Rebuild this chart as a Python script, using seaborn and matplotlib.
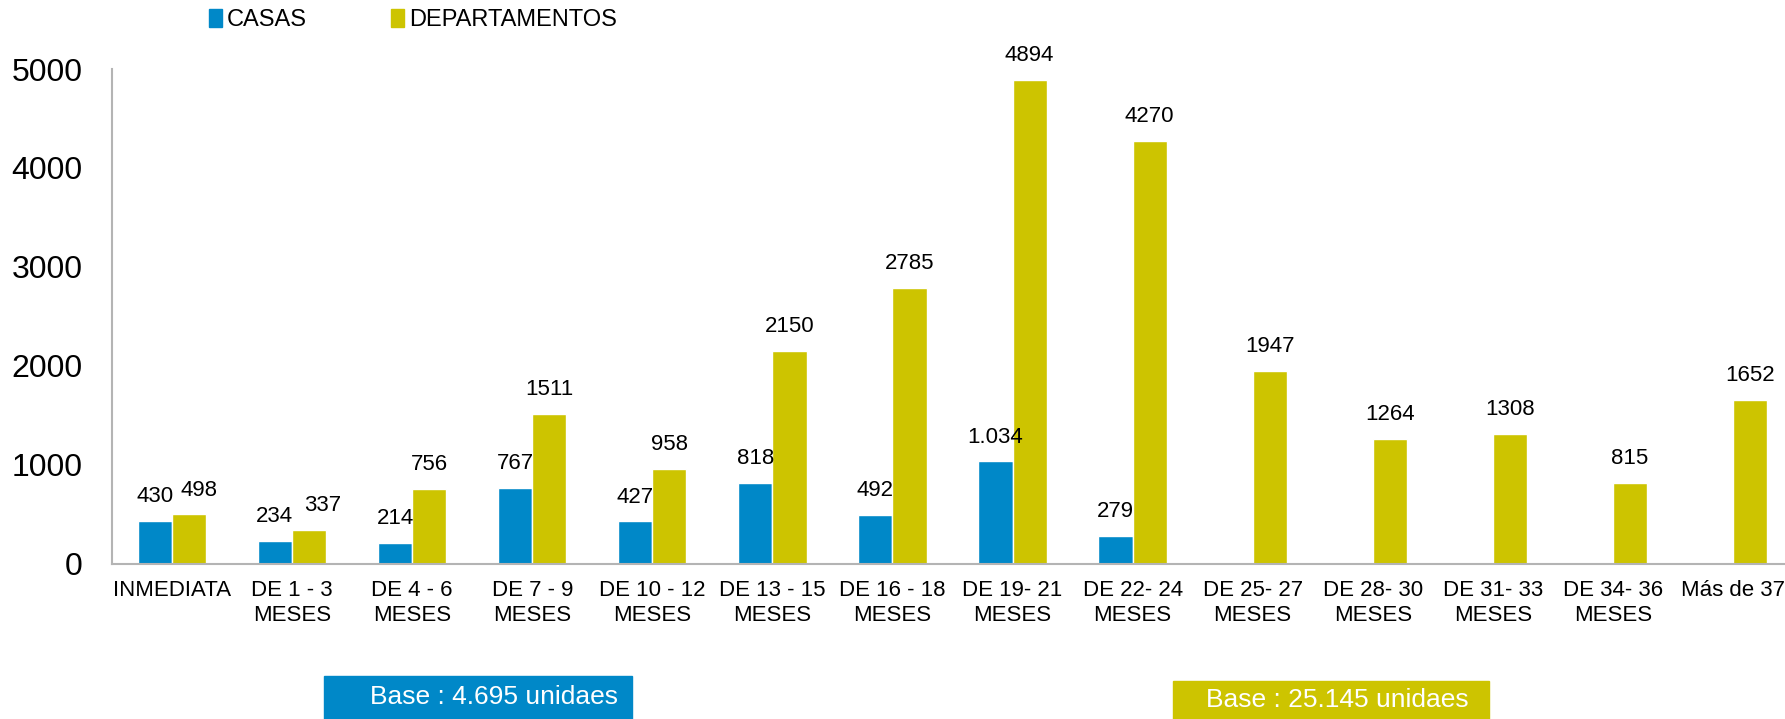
import pandas as pd
import matplotlib.pyplot as plt
import matplotlib.patches as mpatches
import seaborn as sns

# datos
periodos = ["INMEDIATA", "DE 1 - 3\nMESES", "DE 4 - 6\nMESES", "DE 7 - 9\nMESES",
            "DE 10 - 12\nMESES", "DE 13 - 15\nMESES", "DE 16 - 18\nMESES",
            "DE 19- 21\nMESES", "DE 22- 24\nMESES", "DE 25- 27\nMESES",
            "DE 28- 30\nMESES", "DE 31- 33\nMESES", "DE 34- 36\nMESES", "Más de 37"]
casas = [430, 234, 214, 767, 427, 818, 492, 1034, 279, 0, 0, 0, 0, 0]
departamentos = [498, 337, 756, 1511, 958, 2150, 2785, 4894, 4270, 1947, 1264, 1308, 815, 1652]
etiquetas_casas = ["430", "234", "214", "767", "427", "818", "492", "1.034", "279", "", "", "", "", ""]
etiquetas_deptos = [str(v) for v in departamentos]
y_ticks = [0, 1000, 2000, 3000, 4000, 5000]
base_casas = "Base : 4.695 unidaes"
base_deptos = "Base : 25.145 unidaes"

azul = "#0088C8"
amarillo = "#CDC400"

df = pd.DataFrame({
    "periodo": periodos * 2,
    "tipo": ["CASAS"] * len(periodos) + ["DEPARTAMENTOS"] * len(periodos),
    "valor": casas + departamentos,
})

sns.set_style("white")
plt.rcParams["font.family"] = ["Liberation Sans", "DejaVu Sans"]
plt.rcParams["text.color"] = "black"
plt.rcParams["xtick.color"] = "black"
plt.rcParams["ytick.color"] = "black"

fig = plt.figure(figsize=(17.85, 7.19), dpi=100)
ax = fig.add_axes([0.0627, 0.216, 0.9418, 0.688])

sns.barplot(data=df, x="periodo", y="valor", hue="tipo", order=periodos,
            hue_order=["CASAS", "DEPARTAMENTOS"], palette=[azul, amarillo],
            width=0.57, saturation=1, ax=ax, legend=False)

ax.bar_label(ax.containers[0], labels=etiquetas_casas, padding=10, fontsize=16)
textos = ax.bar_label(ax.containers[1], labels=etiquetas_deptos, padding=10, fontsize=16)
# en el original las dos primeras etiquetas estan corridas a la derecha
for t, dx in zip(textos[:2], [7, 10]):
    x0, y0 = t.xyann
    t.xyann = (x0 + dx, y0)

ax.set_xlim(-0.5, 13.5)
ax.set_ylim(0, 5000)
ax.set_yticks(y_ticks)
ax.set_xlabel("")
ax.set_ylabel("")
ax.tick_params(axis="y", labelsize=23, length=0, pad=21)
ax.tick_params(axis="x", labelsize=16, length=0, pad=12)
for s in ["top", "right"]:
    ax.spines[s].set_visible(False)
for s in ["left", "bottom"]:
    ax.spines[s].set_color("#B4B4B4")
    ax.spines[s].set_linewidth(1.5)

handles = [mpatches.Patch(color=azul, label="CASAS"),
           mpatches.Patch(color=amarillo, label="DEPARTAMENTOS")]
fig.legend(handles=handles, loc="center left", bbox_to_anchor=(0.105, 0.972),
           ncol=2, frameon=False, fontsize=17, handlelength=0.55, handleheight=0.8,
           handletextpad=0.2, columnspacing=3.6)

# cajas de base
fig.patches.append(mpatches.Rectangle((0.1815, 0.0), 0.1726, 0.06, transform=fig.transFigure,
                                      color=azul, zorder=1))
fig.text(0.2765, 0.03, base_casas, color="white", fontsize=19, ha="center", va="center")
fig.patches.append(mpatches.Rectangle((0.657, 0.0), 0.177, 0.053, transform=fig.transFigure,
                                      color=amarillo, zorder=1))
fig.text(0.749, 0.026, base_deptos, color="white", fontsize=19, ha="center", va="center")

plt.savefig("out.png", dpi=100)
